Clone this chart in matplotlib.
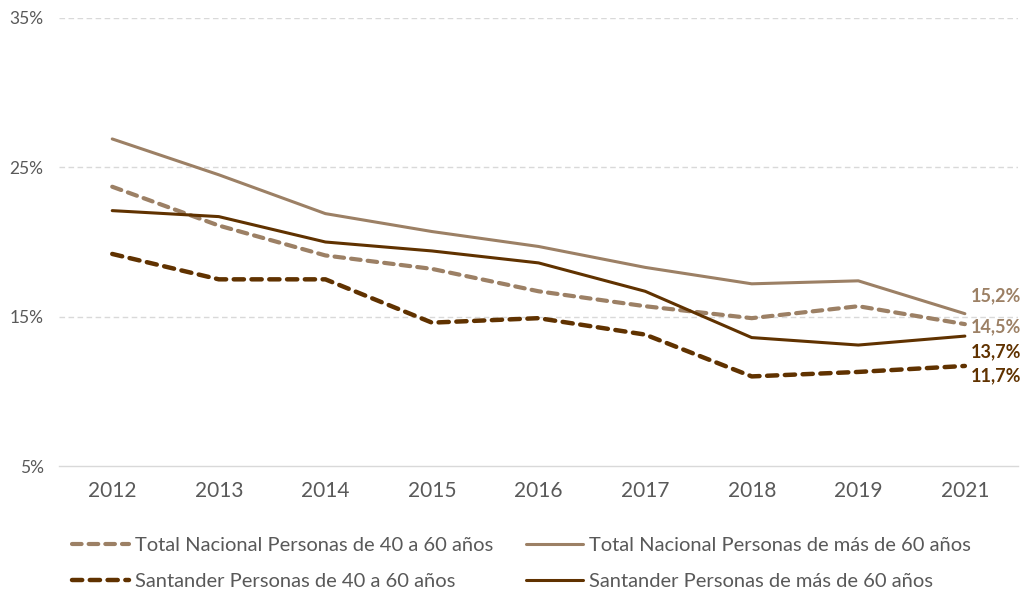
import matplotlib.pyplot as plt

plt.rcParams['font.family'] = ['Lato', 'DejaVu Sans']

years = ['2012', '2013', '2014', '2015', '2016', '2017', '2018', '2019', '2021']
tn_40_60 = [23.7, 21.1, 19.1, 18.2, 16.7, 15.7, 14.9, 15.7, 14.5]
tn_60 = [26.9, 24.5, 21.9, 20.7, 19.7, 18.3, 17.2, 17.4, 15.2]
san_40_60 = [19.2, 17.5, 17.5, 14.6, 14.9, 13.8, 11.0, 11.3, 11.7]
san_60 = [22.1, 21.7, 20.0, 19.4, 18.6, 16.7, 13.6, 13.1, 13.7]

light = '#9c8065'
dark = '#603200'
grey = '#595959'

fig = plt.figure(figsize=(10.27, 5.99), dpi=100)
ax = fig.add_axes([0.0574, 0.222, 0.934, 0.748])

x = range(len(years))
l1, = ax.plot(x, tn_40_60, color=light, lw=3.0, ls=(0, (2.3, 1.7)),
              dash_capstyle='round', label='Total Nacional Personas de 40 a 60 años')
l2, = ax.plot(x, tn_60, color=light, lw=2.2, solid_capstyle='round',
              label='Total Nacional Personas de más de 60 años')
l3, = ax.plot(x, san_40_60, color=dark, lw=3.2, ls=(0, (2.3, 1.7)),
              dash_capstyle='round', label='Santander Personas de 40 a 60 años')
l4, = ax.plot(x, san_60, color=dark, lw=2.2, solid_capstyle='round',
              label='Santander Personas de más de 60 años')

# end labels (offsets in points)
last = len(years) - 1
ends = [(tn_60[-1], light, 13), (tn_40_60[-1], light, -2),
        (san_60[-1], dark, -11), (san_40_60[-1], dark, -7)]
for val, col, dy in ends:
    ax.annotate(f'{val:.1f}%'.replace('.', ','), (last, val),
                xytext=(4, dy), textcoords='offset points',
                color=col, fontsize=13, fontweight='bold', va='center', ha='left')

ax.set_xlim(-0.5, 8.5)
ax.set_ylim(5, 35)
ax.set_yticks([5, 15, 25, 35])
ax.set_yticklabels(['5%', '15%', '25%', '35%'])
ax.set_xticks(list(x))
ax.set_xticklabels(years)
for yv in [15, 25, 35]:
    ax.axhline(yv, color='#d9d9d9', lw=1.0, ls=(0, (4, 2.5)), zorder=0)
for s in ['top', 'right', 'left']:
    ax.spines[s].set_visible(False)
ax.spines['bottom'].set_color('#d9d9d9')
ax.spines['bottom'].set_linewidth(1.0)
ax.tick_params(axis='both', length=0, colors=grey)
ax.tick_params(axis='x', labelsize=15, pad=11)
ax.tick_params(axis='y', labelsize=12.5, pad=11)

fig.legend(handles=[l1, l3, l2, l4], ncol=2, loc='upper left',
           bbox_to_anchor=(0.062, 0.117), frameon=False, fontsize=14.5,
           labelcolor=grey, handlelength=2.85, handletextpad=0.3,
           columnspacing=1.6, labelspacing=0.95, borderaxespad=0)

fig.savefig('out.png', dpi=100)
